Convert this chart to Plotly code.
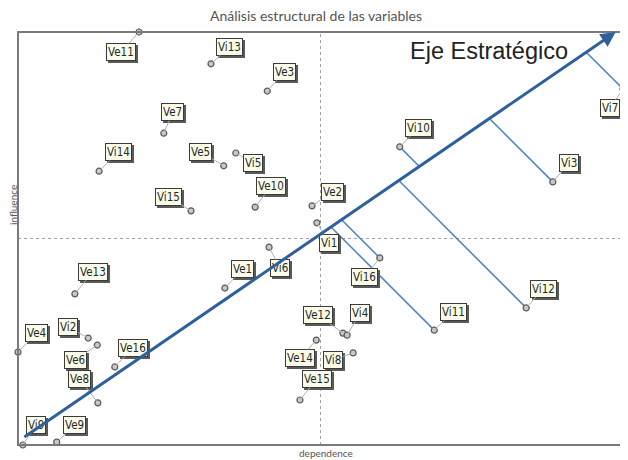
import plotly.graph_objects as go

# ---------------- data ----------------
labels = ["Ve11", "Vi13", "Ve3", "Ve7", "Vi14", "Ve5", "Vi5", "Ve10", "Vi15", "Ve2",
          "Vi1", "Vi10", "Vi3", "Vi7", "Vi6", "Ve1", "Ve13", "Ve4", "Vi2", "Ve6",
          "Ve16", "Ve8", "Vi9", "Ve9", "Ve12", "Vi4", "Ve14", "Vi8", "Ve15", "Vi16",
          "Vi11", "Vi12"]
dependence = [20.0, 31.9, 41.2, 24.1, 13.4, 34.0, 36.0, 39.2, 28.6, 48.6,
              49.4, 63.1, 88.4, 100.0, 41.5, 34.2, 9.4, 0.0, 11.6, 13.1,
              16.0, 13.2, 0.8, 6.4, 53.7, 54.4, 49.3, 55.4, 46.6, 59.8,
              68.8, 84.0]
influence = [100.0, 92.3, 85.7, 75.5, 66.3, 67.6, 70.7, 57.6, 56.7, 57.9,
             53.8, 72.2, 63.7, 86.2, 47.9, 38.0, 36.6, 22.5, 25.9, 24.2,
             18.9, 10.2, 0.0, 0.7, 27.1, 26.6, 25.4, 22.3, 10.9, 45.3,
             27.8, 33.2]
strategic = ["Vi7", "Vi3", "Vi10", "Vi12", "Vi16", "Vi11"]
axis_start = (0.8, 1.7)
axis_end = (98.8, 100.0)
mean_dep = 50.0
mean_inf = 50.0

# ---------------- layout / style ----------------
label_offsets = {  # pixel offsets of the label boxes from their point
    "Ve11": (-18, 20), "Vi13": (19, -17), "Ve3": (17, -19), "Ve7": (9, -21),
    "Vi14": (19, -19), "Ve5": (-23, -14), "Vi5": (17, 10), "Ve10": (16, -21),
    "Vi15": (-23, -14), "Ve2": (20, -14), "Vi1": (12, 20), "Vi10": (19, -19),
    "Vi3": (16, -19), "Vi7": (-13, 19), "Vi6": (11, 21), "Ve1": (18, -19),
    "Ve13": (18, -22), "Ve4": (18, -19), "Vi2": (-20, -11), "Ve6": (-22, 15),
    "Ve16": (18, -19), "Ve8": (-18, -24), "Vi9": (13, -20), "Ve9": (18, -17),
    "Ve12": (-25, -18), "Vi4": (13, -22), "Ve14": (-16, 18), "Vi8": (-20, 7),
    "Ve15": (17, -21), "Vi16": (-15, 19), "Vi11": (19, -18), "Vi12": (17, -19),
}
OFF = 8                      # page body margin around the plot div
PAGE_W, PAGE_H = 628, 460
W, H = PAGE_W - OFF, PAGE_H - OFF
ML, MR, MT, MB = 18 - OFF, 5, 32 - OFF, 15
PW, PH = W - ML - MR, H - MT - MB
X0, X1, Y0, Y1 = 0, 100, 0, 100
sx = PW / (X1 - X0)   # px per unit
sy = PH / (Y1 - Y0)
AXIS_COL = "#2f5f9c"
PROJ_COL = "#4f86c6"
LABEL_FONT = "Liberation Sans Narrow, DejaVu Sans Condensed, Arial Narrow, sans-serif"
PLOT_LEFT, PLOT_BOTTOM = 18, 445   # page pixels of the plot area corner


def px_x(page_x):
    return (page_x - PLOT_LEFT) / PW


def px_y(page_y):
    return (PLOT_BOTTOM - page_y) / PH


fig = go.Figure()

# projection lines of strategic variables onto the strategic axis (45deg on screen)
ax0, ay0 = axis_start
adx, ady = axis_end[0] - axis_start[0], axis_end[1] - axis_start[1]
pdx, pdy = -1.0 / sx, 1.0 / sy   # up-left at 45 degrees in screen space
for name in strategic:
    i = labels.index(name)
    px, py = dependence[i], influence[i]
    det = pdx * (-ady) - pdy * (-adx)
    rx, ry = ax0 - px, ay0 - py
    s = (rx * (-ady) - ry * (-adx)) / det
    fx, fy = px + s * pdx, py + s * pdy
    fig.add_trace(go.Scatter(x=[px, fx], y=[py, fy], mode="lines",
                             line=dict(color=PROJ_COL, width=1.6),
                             hoverinfo="skip", showlegend=False))

# points
fig.add_trace(go.Scatter(
    x=dependence, y=influence, mode="markers", text=labels,
    marker=dict(size=6, color="#c8c8c8", line=dict(color="#5a5a5a", width=1.2)),
    cliponaxis=False, showlegend=False, hoverinfo="text"))

annotations = []
# label boxes with shadow
for name, dx_, dy_ in zip(labels, dependence, influence):
    ox, oy = label_offsets[name]
    annotations.append(dict(
        x=dx_, y=dy_, xref="x", yref="y", ax=ox + 2, ay=oy + 2, text=name,
        showarrow=True, arrowhead=0, arrowwidth=0.1, arrowcolor="rgba(0,0,0,0)",
        font=dict(family=LABEL_FONT, size=11.5, color="#5a5a5a"),
        bgcolor="#5a5a5a", bordercolor="#5a5a5a", borderwidth=1, borderpad=1))
for name, dx_, dy_ in zip(labels, dependence, influence):
    ox, oy = label_offsets[name]
    annotations.append(dict(
        x=dx_, y=dy_, xref="x", yref="y", ax=ox, ay=oy, text=name,
        showarrow=True, arrowhead=0, arrowwidth=1, arrowcolor="#b0b0b0", standoff=2,
        font=dict(family=LABEL_FONT, size=11.5, color="#1e2a2a"),
        bgcolor="#fbfbea", bordercolor="#3a3a3a", borderwidth=1, borderpad=1))

# strategic axis arrow
annotations.append(dict(
    x=axis_end[0], y=axis_end[1], ax=axis_start[0], ay=axis_start[1],
    xref="x", yref="y", axref="x", ayref="y", text="", showarrow=True,
    arrowhead=2, arrowsize=1.0, arrowwidth=3, arrowcolor=AXIS_COL))

annotations += [
    dict(text="Eje Estratégico", x=px_x(489), y=px_y(51),
         xref="paper", yref="paper", showarrow=False, xanchor="center", yanchor="middle",
         font=dict(family="Liberation Sans, Arial, sans-serif", size=23.5, color="#222222")),
    dict(text="dependence", x=px_x(326), y=px_y(453), xref="paper", yref="paper",
         showarrow=False, xanchor="center", yanchor="middle",
         font=dict(family="Lato, sans-serif", size=10, color="#555555")),
    dict(text="influence", x=px_x(13), y=px_y(205), xref="paper", yref="paper",
         showarrow=False, xanchor="center", yanchor="middle", textangle=-90,
         font=dict(family="Lato, sans-serif", size=10, color="#555555")),
    dict(text="© LIPSOR-EPITA-MICMAC", x=px_x(625.5), y=px_y(383),
         xref="paper", yref="paper", showarrow=False, xanchor="center", yanchor="middle",
         textangle=-90, font=dict(family="DejaVu Sans, sans-serif", size=5, color="#8b5a3c")),
]

shapes = [
    dict(type="line", x0=mean_dep, x1=mean_dep, y0=0, y1=1, xref="x", yref="paper",
         line=dict(color="#a0a0a0", width=1, dash="dot"), layer="below"),
    dict(type="line", x0=0, x1=1, y0=mean_inf, y1=mean_inf, xref="paper", yref="y",
         line=dict(color="#a0a0a0", width=1, dash="dot"), layer="below"),
    dict(type="rect", x0=0, x1=1, y0=0, y1=1, xref="paper", yref="paper",
         line=dict(color="#7a7a7a", width=2), layer="above"),
]

fig.update_layout(
    width=W, height=H, margin=dict(l=ML, r=MR, t=MT, b=MB),
    paper_bgcolor="white", plot_bgcolor="white",
    title=dict(text="Análisis estructural de las variables", x=(316 - OFF) / W,
               y=1 - (16 - OFF) / H,
               xref="container", yref="container", xanchor="center", yanchor="middle",
               font=dict(family="Lato, sans-serif", size=14, color="#555555")),
    xaxis=dict(range=[X0, X1], showgrid=False, zeroline=False, showticklabels=False,
               ticks="", showline=False),
    yaxis=dict(range=[Y0, Y1], showgrid=False, zeroline=False, showticklabels=False,
               ticks="", showline=False),
    annotations=annotations, shapes=shapes,
)

fig.write_html("out.html")
